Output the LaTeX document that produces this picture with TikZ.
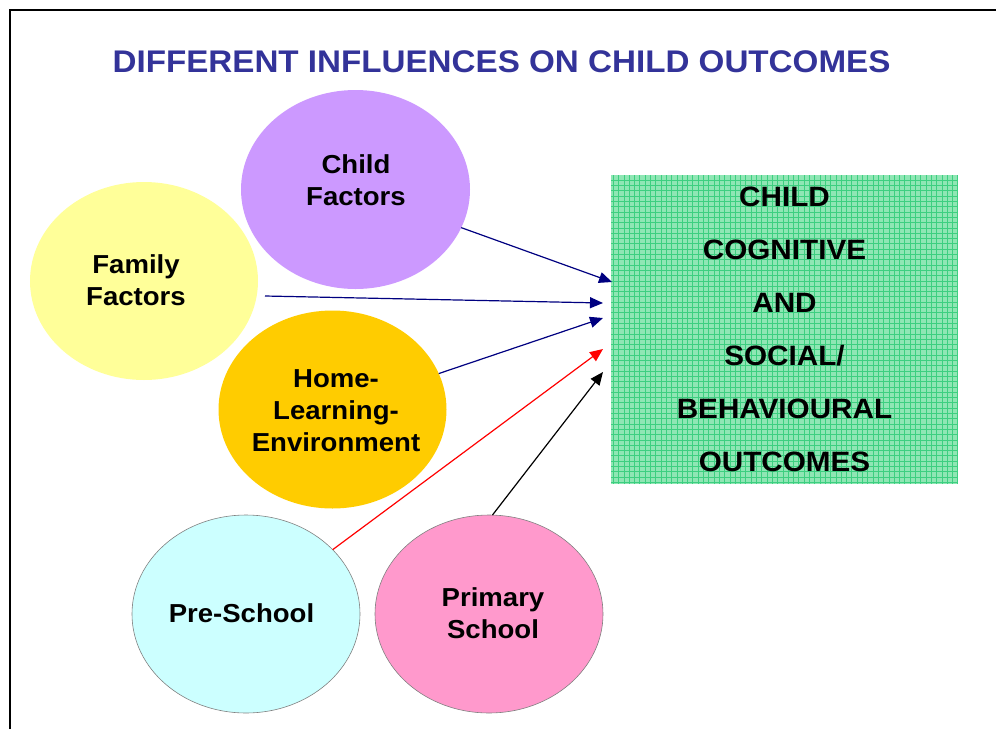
\documentclass[tikz,border=0pt]{standalone}
\usepackage{fontspec}
\setmainfont[FakeStretch=1.06]{Liberation Sans}
\usepackage{tikz}
\usetikzlibrary{shapes.geometric,arrows.meta}
\definecolor{titleblue}{HTML}{333399}
\definecolor{arrnavy}{HTML}{000080}
\definecolor{childc}{HTML}{CC99FF}
\definecolor{familyc}{HTML}{FFFF99}
\definecolor{homec}{HTML}{FFCC00}
\definecolor{prec}{HTML}{CCFFFF}
\definecolor{primc}{HTML}{FF99CC}
\definecolor{boxc}{HTML}{8FE6B4}
\definecolor{gridc}{HTML}{3DCF80}
\begin{document}
\begin{tikzpicture}[x=1pt,y=-1pt]
\tikzstyle{every node}+=[inner sep=0pt,outer sep=0pt]
\tikzstyle{bubble}=[ellipse,minimum width=228pt,minimum height=198pt]
\tikzstyle{lbl}=[align=center,font=\fontsize{26}{32}\bfseries\selectfont]
\tikzstyle{link}=[line width=1.2pt,-{Triangle[length=13pt,width=11pt]}]
\useasboundingbox (0,0) rectangle (996,729);
\draw [black,line width=2.2pt] (10,729) -- (10,10) -- (996,10);
\node [text=titleblue,font=\fontsize{31.3}{31.3}\bfseries\selectfont] (title) at (501.5,62) {DIFFERENT INFLUENCES ON CHILD OUTCOMES};
\node [bubble,fill=childc,minimum width=229pt,minimum height=199pt] (child) at (355.5,189.5) {};
\node [lbl] (childlbl) at (356,180.7) {Child\\Factors};
\node [bubble,fill=familyc] (family) at (144,281) {};
\node [lbl] (familylbl) at (136,280.5) {Family\\Factors};
\node [bubble,fill=homec] (home) at (332.5,409.5) {};
\node [lbl] (homelbl) at (336,410.5) {Home-\\Learning-\\Environment};
\node [bubble,fill=prec,draw=gray,line width=0.6pt] (pre) at (246,614) {};
\node [lbl] (prelbl) at (241.5,613.5) {Pre-School};
\node [bubble,fill=primc,draw=gray,line width=0.6pt] (primary) at (489,614) {};
\node [lbl] (primarylbl) at (493,613.2) {Primary\\School};
\node [minimum width=347pt,minimum height=309pt,fill=boxc,align=center,
  font=\fontsize{28}{53}\bfseries\selectfont,
  path picture={\draw [gridc,line width=0.5pt] (path picture bounding box.south west) grid[step=5.3pt] (path picture bounding box.north east);}]
  (box) at (784.5,329.5) {CHILD\\COGNITIVE\\AND\\SOCIAL/\\BEHAVIOURAL\\OUTCOMES};
\coordinate (in1) at ([shift={(1pt,47.5pt)}]box.west);
\coordinate (in2) at ([shift={(-8pt,26.5pt)}]box.west);
\coordinate (in3) at ([shift={(-8pt,11.5pt)}]box.west);
\coordinate (in4) at ([shift={(-8pt,-19.5pt)}]box.west);
\coordinate (in5) at ([shift={(-8pt,-42.5pt)}]box.west);
\draw [arrnavy,link] (child) -- (in1);
\draw [arrnavy,link] ([shift={(7pt,-15pt)}]family.east) -- (in2);
\draw [arrnavy,link] (home) -- (in3);
\draw [red,link] (pre) -- (in4);
\draw [black,link] (primary.88) -- (in5);
\end{tikzpicture}
\end{document}
